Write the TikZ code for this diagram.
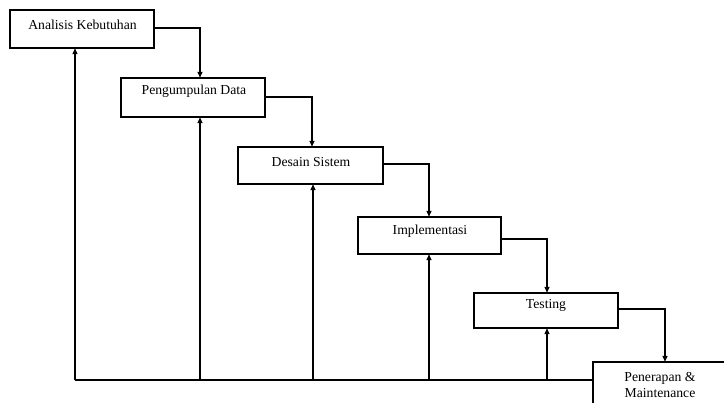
\documentclass[tikz,border=0pt]{standalone}
\usepackage{fontspec}
\setmainfont{Liberation Serif}
\usetikzlibrary{arrows.meta}
\begin{document}
\begin{tikzpicture}[x=1pt,y=-1pt,
  stagebox/.style={draw=black,line width=1.8pt,fill=white},
  lbl/.style={font=\fontsize{13.7}{15.5}\selectfont,inner sep=0pt,align=center},
  flow/.style={line width=1.3pt,-{Triangle[length=6pt,width=5pt]}},
  back/.style={line width=1.3pt,-{Triangle[length=6pt,width=5pt]}}]
\useasboundingbox (0,0) rectangle (724,403);
\begin{scope}
\clip (0,0) rectangle (724,403);
% boxes
\path[stagebox] (10,10) rectangle (154,48);
\coordinate (b1w) at (10,29); \coordinate (b1e) at (154,28);
\node[draw=none,minimum width=144pt,minimum height=38pt,inner sep=0pt] (b1) at (82,29) {};
\node[draw=none,minimum width=144pt,minimum height=39pt,inner sep=0pt] (b2) at (193,97.5) {};
\node[draw=none,minimum width=145pt,minimum height=37pt,inner sep=0pt] (b3) at (310.5,165.5) {};
\node[draw=none,minimum width=143pt,minimum height=37pt,inner sep=0pt] (b4) at (429.5,235.5) {};
\node[draw=none,minimum width=144pt,minimum height=35pt,inner sep=0pt] (b5) at (546,310.5) {};
\node[draw=none,minimum width=200pt,minimum height=70pt,inner sep=0pt] (b6) at (693,397) {};
\path[stagebox] (b2.north west) rectangle (b2.south east);
\path[stagebox] (b3.north west) rectangle (b3.south east);
\path[stagebox] (b4.north west) rectangle (b4.south east);
\path[stagebox] (b5.north west) rectangle (b5.south east);
\path[stagebox] (b6.north west) rectangle (b6.south east);
% labels
\node[lbl] (t1) at (82.5,25) {Analisis Kebutuhan};
\node[lbl] (t2) at (194,91) {Pengumpulan Data};
\node[lbl] (t3) at (311,162) {Desain Sistem};
\node[lbl] (t4) at (430,231) {Implementasi};
\node[lbl] (t5) at (546,305) {Testing};
\node[lbl] (t6) at (660,385) {Penerapan \&\\Maintenance};
% forward flow
\coordinate (c1) at (200,28);
\coordinate (c2) at (312,97);
\coordinate (c3) at (429,164);
\coordinate (c4) at (547,239);
\coordinate (c5) at (665,309);
\draw[flow] (b1.east |- c1) -- (c1) -- (b2.north -| c1);
\draw[flow] (b2.east |- c2) -- (c2) -- (b3.north -| c2);
\draw[flow] (b3.east |- c3) -- (c3) -- (b4.north -| c3);
\draw[flow] (b4.east |- c4) -- (c4) -- (b5.north -| c4);
\draw[flow] (b5.east |- c5) -- (c5) -- (b6.north -| c5);
% return line
\coordinate (r1) at (75,380);
\coordinate (r2) at (200,380);
\coordinate (r3) at (313,380);
\coordinate (r4) at (429,380);
\coordinate (r5) at (547,380);
\draw[line width=1.3pt] (r1) -- (b6.west |- r1);
\draw[back] (r1) -- (b1.south -| r1);
\draw[back] (r2) -- (b2.south -| r2);
\draw[back] (r3) -- (b3.south -| r3);
\draw[back] (r4) -- (b4.south -| r4);
\draw[back] (r5) -- (b5.south -| r5);
\end{scope}
\end{tikzpicture}
\end{document}
